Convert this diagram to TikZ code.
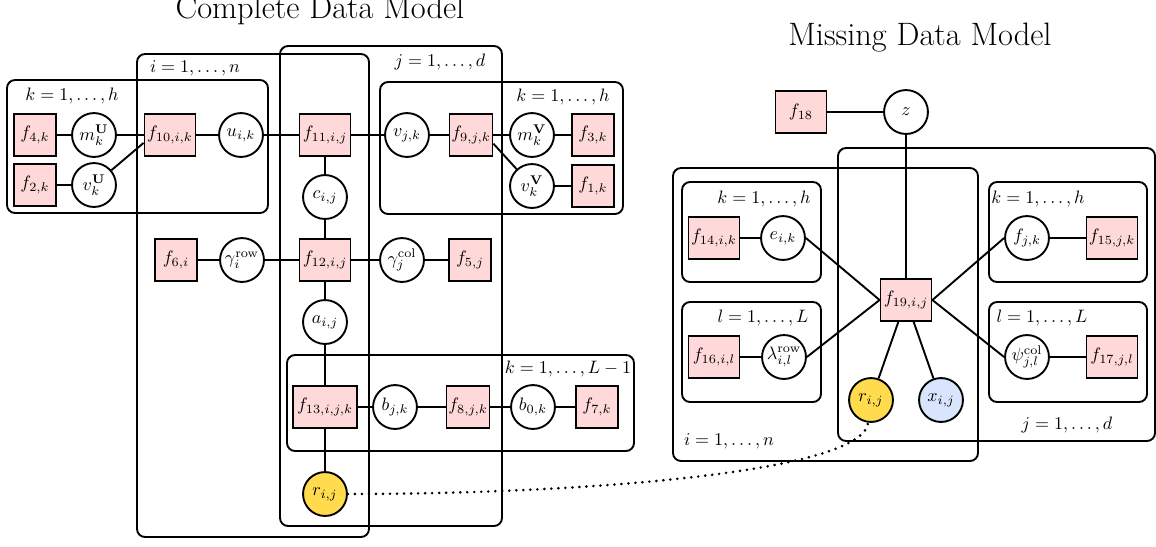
\documentclass[tikz,border=0pt]{standalone}
\usepackage{amsmath,amssymb}
\usepackage{tikz}
\usetikzlibrary{fit,calc}
\definecolor{facpink}{RGB}{255,217,217}
\definecolor{obsyellow}{RGB}{255,219,77}
\definecolor{datablue}{RGB}{216,229,252}

\begin{document}
\begin{tikzpicture}[
  x=0.5556pt, y=-0.5556pt, line width=1.05pt,
  fac/.style={draw, fill=facpink, minimum size=23.3pt, inner sep=1pt},
  facw/.style={fac, minimum width=28.3pt},
  var/.style={draw, circle, fill=white, minimum size=24.4pt, inner sep=0.5pt},
  obs/.style={var, fill=obsyellow},
  dat/.style={var, fill=datablue},
  plate/.style={draw, rounded corners=4.5pt, inner sep=0pt},
  lbl/.style={inner sep=1pt},
  ttl/.style={font=\fontsize{18}{21}\selectfont, anchor=base},
  link/.style={line width=1.6pt, line cap=round, dash pattern=on 0pt off 3.9pt}
]
\useasboundingbox (0,0) rectangle (1156,546);

% titles
\node[ttl] (tcomp) at (320,18) {Complete Data Model};
\node[ttl] (tmiss) at (920,45) {Missing Data Model};

% plates, complete model
\node[plate, fit={(7,80) (268,213)}]   (pku) {};
\node[plate, fit={(137,54) (369,537)}] (pi)  {};
\node[plate, fit={(280,46) (502,526)}] (pj)  {};
\node[plate, fit={(380,82) (623,214)}] (pkv) {};
\node[plate, fit={(287,355) (634,451)}] (pl) {};
\node[lbl] (lku) at (72,96)   {$k=1,\ldots,h$};
\node[lbl] (li)  at (195,68)  {$i=1,\ldots,n$};
\node[lbl] (lj)  at (440,62)  {$j=1,\ldots,d$};
\node[lbl] (lkv) at (563,97)  {$k=1,\ldots,h$};
\node[lbl] (ll)  at (568,369) {$k=1,\ldots,L-1$};

% plates, missing model
\node[plate, fit={(673,168) (978,461)}]  (pir) {};
\node[plate, fit={(838,148) (1155,441)}] (pjr) {};
\node[plate, fit={(682,182) (821,282)}]  (pke) {};
\node[plate, fit={(989,182) (1147,282)}] (pkf) {};
\node[plate, fit={(682,302) (821,402)}]  (plr) {};
\node[plate, fit={(989,302) (1147,402)}] (plc) {};
\node[lbl] (lke) at (764,199)  {$k=1,\ldots,h$};
\node[lbl] (lkf) at (1038,199) {$k=1,\ldots,h$};
\node[lbl] (llr) at (763,318)  {$l=1,\ldots,L$};
\node[lbl] (llc) at (1042,318) {$l=1,\ldots,L$};
\node[lbl] (ljr) at (1067,425) {$j=1,\ldots,d$};
\node[lbl] (lir) at (729,441)  {$i=1,\ldots,n$};

% complete data model
\node[fac]  (f4)  at (35,135)  {$f_{4,k}$};
\node[var]  (mU)  at (94,135)  {$m_k^{\mathbf{U}}$};
\node[fac]  (f2)  at (35,185)  {$f_{2,k}$};
\node[var]  (vU)  at (94,185)  {$v_k^{\mathbf{U}}$};
\node[facw] (f10) at (170,135) {$f_{10,i,k}$};
\node[var]  (u)   at (241,135) {$u_{i,k}$};
\node[facw] (f11) at (325,135) {$f_{11,i,j}$};
\node[var]  (v)   at (407,135) {$v_{j,k}$};
\node[fac]  (f9)  at (471,135) {$f_{9,j,k}$};
\node[var]  (mV)  at (532,135) {$m_k^{\mathbf{V}}$};
\node[fac]  (f3)  at (593,135) {$f_{3,k}$};
\node[var]  (vV)  at (532,186) {$v_k^{\mathbf{V}}$};
\node[fac]  (f1)  at (593,186) {$f_{1,k}$};
\node[var]  (c)   at (325,197) {$c_{i,j}$};
\node[fac]  (f6)  at (176,260) {$f_{6,i}$};
\node[var]  (grow) at (242,260) {$\gamma_i^{\mathrm{row}}$};
\node[facw] (f12) at (325,260) {$f_{12,i,j}$};
\node[var]  (gcol) at (402,260) {$\gamma_j^{\mathrm{col}}$};
\node[fac]  (f5)  at (470,260) {$f_{5,j}$};
\node[var]  (a)   at (325,322) {$a_{i,j}$};
\node[fac, minimum width=36pt] (f13) at (325,407) {$f_{13,i,j,k}$};
\node[var]  (b)   at (395,407) {$b_{j,k}$};
\node[fac]  (f8)  at (468,407) {$f_{8,j,k}$};
\node[var]  (b0)  at (533,407) {$b_{0,k}$};
\node[fac]  (f7)  at (597,407) {$f_{7,k}$};
\node[obs]  (rl)  at (325,494) {$r_{i,j}$};

\draw (f4) -- (mU) -- (f10) -- (u) -- (f11) -- (v) -- (f9) -- (mV) -- (f3);
\draw (f2) -- (vU) -- ([yshift=-4.4pt]f10.west);
\draw ([yshift=-4.8pt]f9.east) -- (vV) -- (f1);
\draw (f11) -- (c) -- (f12) -- (a) -- (f13) -- (rl);
\draw (f6) -- (grow) -- (f12) -- (gcol) -- (f5);
\draw (f13) -- (b) -- (f8) -- (b0) -- (f7);

% missing data model
\node[facw] (f18) at (801,112)  {$f_{18}$};
\node[var]  (z)   at (906,112)  {$z$};
\node[facw] (f14) at (714,238)  {$f_{14,i,k}$};
\node[var]  (e)   at (783,238)  {$e_{i,k}$};
\node[var]  (fjk) at (1027,238) {$f_{j,k}$};
\node[facw] (f15) at (1112,238) {$f_{15,j,k}$};
\node[facw] (f19) at (906,300)  {$f_{19,i,j}$};
\node[facw] (f16) at (714,357)  {$f_{16,i,l}$};
\node[var]  (lam) at (784,357)  {$\lambda_{i,l}^{\mathrm{row}}$};
\node[var]  (psi) at (1027,357) {$\psi_{j,l}^{\mathrm{col}}$};
\node[facw] (f17) at (1112,357) {$f_{17,j,l}$};
\node[obs]  (rr)  at (871,400)  {$r_{i,j}$};
\node[dat]  (x)   at (941,400)  {$x_{i,j}$};

\draw (f18) -- (z) -- (f19);
\draw (f14) -- (e);
\draw (e.east) -- (f19.west);
\draw (lam.east) -- (f19.west);
\draw (f16) -- (lam);
\draw (f19.east) -- (fjk.west);
\draw (fjk) -- (f15);
\draw (f19.east) -- (psi.west);
\draw (psi) -- (f17);
\draw (f19) -- (rr);
\draw (f19) -- (x);

% the two r nodes are the same variable
\draw[link] (rl) .. controls +(253,0) and +(-9,73) .. (rr);
\end{tikzpicture}
\end{document}
